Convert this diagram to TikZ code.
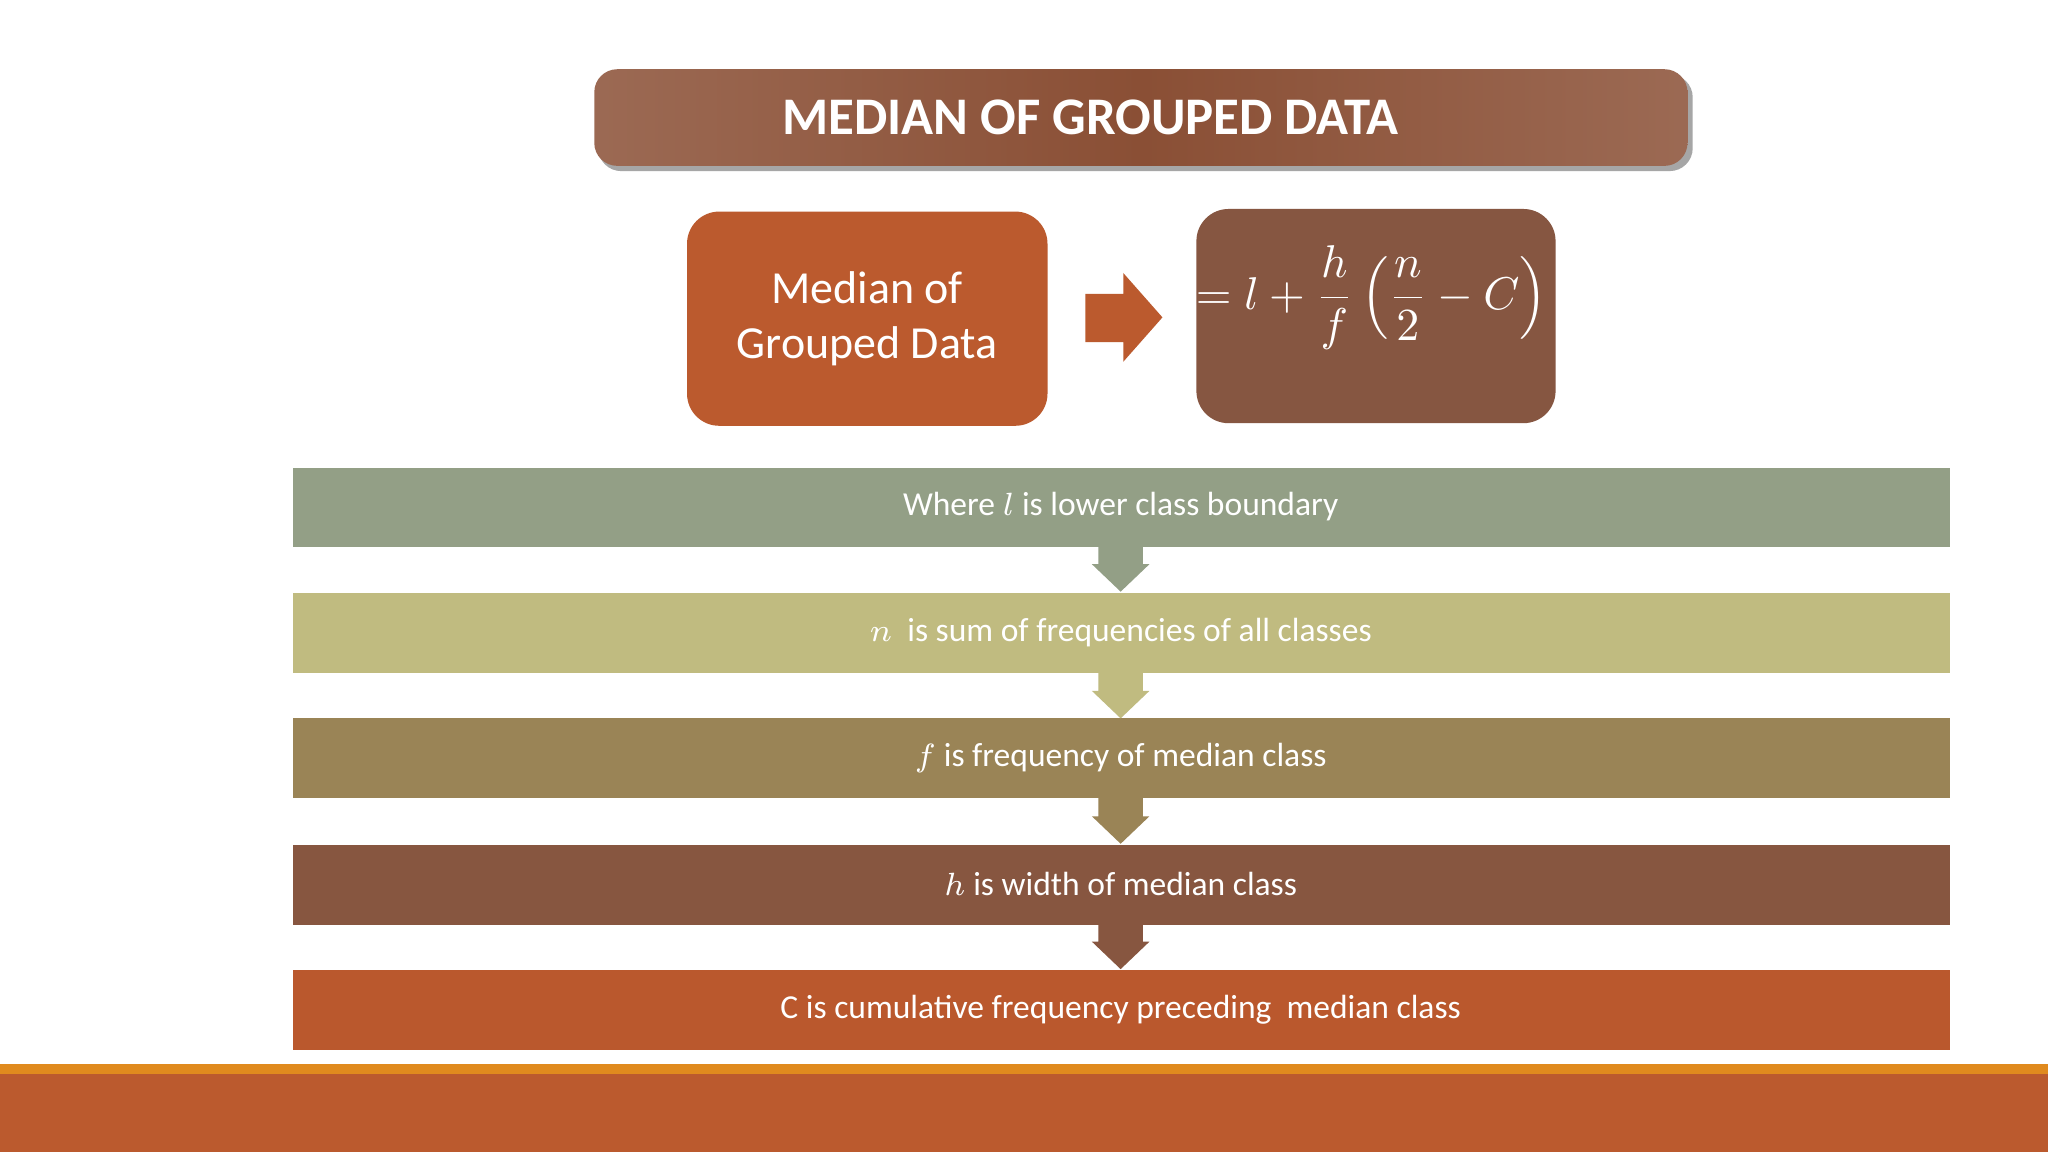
\documentclass[tikz,border=0pt]{standalone}
\usepackage{fontspec}
\setmainfont{Carlito}
\usetikzlibrary{shapes.arrows,shadows}
\definecolor{ttl}{HTML}{8A4F35}
\definecolor{cA}{HTML}{BB5A2E}
\definecolor{cB}{HTML}{865641}
\definecolor{b1}{HTML}{939F86}
\definecolor{b2}{HTML}{C0BB80}
\definecolor{b3}{HTML}{9A8456}
\definecolor{b4}{HTML}{875640}
\definecolor{b5}{HTML}{BA582D}
\definecolor{org}{HTML}{E08A1E}
\begin{document}
\begin{tikzpicture}[x=0.01cm,y=-0.01cm,
  bar/.style={minimum width=1269\pgflinewidth, text=white, font=\fontsize{7.2}{8}\selectfont},
  dn/.style={}]
\useasboundingbox (0,0) rectangle (1568,882);
\fill[white] (0,0) rectangle (1568,882);
% title
\fill[black!35,rounded corners=5] (458,57) rectangle (1296,131);
\shade[left color=ttl!85!white, right color=ttl!85!white, middle color=ttl, rounded corners=5] (455,53) rectangle (1292,127);
\node[text=white,font=\bfseries\fontsize{11.5}{13}\selectfont] (title) at (835,90) {MEDIAN OF GROUPED DATA};
% boxes
\fill[cA,rounded corners=7] (526,162) rectangle (802,326);
\node[text=white,align=center,font=\fontsize{10}{12}\selectfont] (left) at (664,244) {Median of\\Grouped Data};
\fill[cB,rounded corners=7] (916,160) rectangle (1191,324);
\node[text=white,font=\fontsize{10}{12}\selectfont] (right) at (1050,228) {$\displaystyle = l + \frac{h}{f}\left(\frac{n}{2} - C\right)$};
\fill[cA] (831,225) -- (860,225) -- (860,209) -- (890,243) -- (860,277) -- (860,262) -- (831,262) -- cycle;
% bars
\foreach \c/\t/\y in {b1/{Where $l$ is lower class boundary}/358,
                      b2/{$n$\ \ is sum of frequencies of all classes}/454,
                      b3/{$f$\ is frequency of median class}/550,
                      b4/{$h$ is width of median class}/647,
                      b5/{C is cumulative frequency preceding\ \ median class}/743}{
  \fill[\c] (224,\y) rectangle (1493,\y+61);
  \node[text=white,font=\fontsize{7.3}{9}\selectfont] at (858,\y+30) {\t};
}
\foreach \c/\y in {b1/418,b2/515,b3/611,b4/707}{
  \fill[\c] (841,\y) -- (875,\y) -- (875,\y+14) -- (880,\y+14) -- (858,\y+35) -- (836,\y+14) -- (841,\y+14) -- cycle;
}
% bottom band
\fill[org] (0,815) rectangle (1568,822);
\fill[cA] (0,822) rectangle (1568,882);
\end{tikzpicture}
\end{document}
